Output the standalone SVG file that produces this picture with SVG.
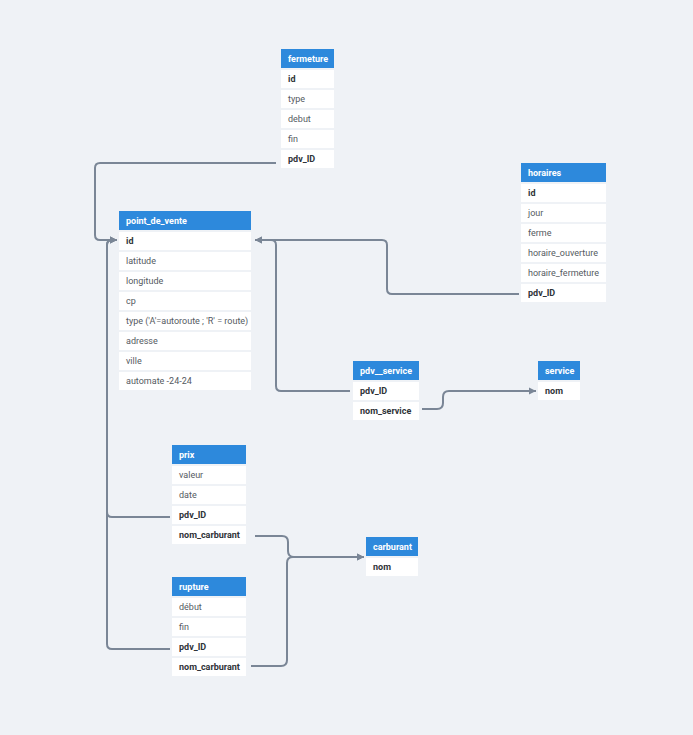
<svg xmlns="http://www.w3.org/2000/svg" width="693" height="735" viewBox="0 0 693 735">
<style>
.bg{fill:#eff2f6}
.hd{fill:#2d89dc}
.rw{fill:#ffffff}
text{font-family:Roboto,"Noto Sans",sans-serif;font-size:9px}
.ht{fill:#ffffff;font-weight:bold}
.k{fill:#2f3338;font-weight:bold}
.f{fill:#555a61}
.c{fill:none;stroke:#7a8696;stroke-width:2}
</style>
<defs>
<marker id="ar" viewBox="0 0 8 8" refX="7" refY="4" markerWidth="8" markerHeight="8" markerUnits="userSpaceOnUse" orient="auto">
<path d="M0,0.5 L7,4 L0,7.5 Z" fill="#7a8696"/>
</marker>
</defs>
<rect class="bg" x="0" y="0" width="693" height="735"/>
<g id="connectors">
<path class="c" d="M276 163 L100 163 Q95 163 95 168 L95 235 Q95 240 100 240 L117 240" marker-end="url(#ar)"/>
<path class="c" d="M170 517 L112 517 Q107 517 107 512 L107 245 Q107 240 112 240 L117 240" marker-end="url(#ar)"/>
<path class="c" d="M170 649 L112 649 Q107 649 107 644 L107 245 Q107 240 112 240 L117 240" marker-end="url(#ar)"/>
<path class="c" d="M519 294 L392 294 Q387 294 387 289 L387 245 Q387 240 382 240 L255 240" marker-end="url(#ar)"/>
<path class="c" d="M350 391 L281 391 Q276 391 276 386 L276 245 Q276 240 271 240 L255 240" marker-end="url(#ar)"/>
<path class="c" d="M422 409 L437 409 Q443 409 443 403 L443 397 Q443 391 449 391 L536 391" marker-end="url(#ar)"/>
<path class="c" d="M255 536 L282 536 Q288 536 288 542 L288 551 Q288 557 294 557 L364 557" marker-end="url(#ar)"/>
<path class="c" d="M251 666 L281 666 Q287 666 287 660 L287 563 Q287 557 293 557 L364 557" marker-end="url(#ar)"/>
</g>
<g id="fermeture">
<rect class="hd" x="281" y="49" width="53" height="19"/>
<text class="ht" x="288" y="61.5">fermeture</text>
<rect class="rw" x="281" y="70" width="53" height="18"/><text class="k" x="288" y="81.5">id</text>
<rect class="rw" x="281" y="90" width="53" height="18"/><text class="f" x="288" y="101.5">type</text>
<rect class="rw" x="281" y="110" width="53" height="18"/><text class="f" x="288" y="121.5">debut</text>
<rect class="rw" x="281" y="130" width="53" height="18"/><text class="f" x="288" y="141.5">fin</text>
<rect class="rw" x="281" y="150" width="53" height="18"/><text class="k" x="288" y="161.5">pdv_ID</text>
</g>
<g id="horaires">
<rect class="hd" x="521" y="163" width="85" height="19"/>
<text class="ht" x="528" y="175.5">horaires</text>
<rect class="rw" x="521" y="184" width="85" height="18"/><text class="k" x="528" y="195.5">id</text>
<rect class="rw" x="521" y="204" width="85" height="18"/><text class="f" x="528" y="215.5">jour</text>
<rect class="rw" x="521" y="224" width="85" height="18"/><text class="f" x="528" y="235.5">ferme</text>
<rect class="rw" x="521" y="244" width="85" height="18"/><text class="f" x="528" y="255.5">horaire_ouverture</text>
<rect class="rw" x="521" y="264" width="85" height="18"/><text class="f" x="528" y="275.5">horaire_fermeture</text>
<rect class="rw" x="521" y="284" width="85" height="18"/><text class="k" x="528" y="295.5">pdv_ID</text>
</g>
<g id="point_de_vente">
<rect class="hd" x="119" y="211" width="132" height="19"/>
<text class="ht" x="126" y="223.5">point_de_vente</text>
<rect class="rw" x="119" y="232" width="132" height="18"/><text class="k" x="126" y="243.5">id</text>
<rect class="rw" x="119" y="252" width="132" height="18"/><text class="f" x="126" y="263.5">latitude</text>
<rect class="rw" x="119" y="272" width="132" height="18"/><text class="f" x="126" y="283.5">longitude</text>
<rect class="rw" x="119" y="292" width="132" height="18"/><text class="f" x="126" y="303.5">cp</text>
<rect class="rw" x="119" y="312" width="132" height="18"/><text class="f" x="126" y="323.5">type ('A'=autoroute ; 'R' = route)</text>
<rect class="rw" x="119" y="332" width="132" height="18"/><text class="f" x="126" y="343.5">adresse</text>
<rect class="rw" x="119" y="352" width="132" height="18"/><text class="f" x="126" y="363.5">ville</text>
<rect class="rw" x="119" y="372" width="132" height="18"/><text class="f" x="126" y="383.5">automate -24-24</text>
</g>
<g id="pdv__service">
<rect class="hd" x="353" y="361" width="66" height="19"/>
<text class="ht" x="360" y="373.5">pdv__service</text>
<rect class="rw" x="353" y="382" width="66" height="18"/><text class="k" x="360" y="393.5">pdv_ID</text>
<rect class="rw" x="353" y="402" width="66" height="18"/><text class="k" x="360" y="413.5">nom_service</text>
</g>
<g id="service">
<rect class="hd" x="538" y="361" width="42" height="19"/>
<text class="ht" x="545" y="373.5">service</text>
<rect class="rw" x="538" y="382" width="42" height="18"/><text class="k" x="545" y="393.5">nom</text>
</g>
<g id="prix">
<rect class="hd" x="172" y="445" width="74" height="19"/>
<text class="ht" x="179" y="457.5">prix</text>
<rect class="rw" x="172" y="466" width="74" height="18"/><text class="f" x="179" y="477.5">valeur</text>
<rect class="rw" x="172" y="486" width="74" height="18"/><text class="f" x="179" y="497.5">date</text>
<rect class="rw" x="172" y="506" width="74" height="18"/><text class="k" x="179" y="517.5">pdv_ID</text>
<rect class="rw" x="172" y="526" width="74" height="18"/><text class="k" x="179" y="537.5">nom_carburant</text>
</g>
<g id="carburant">
<rect class="hd" x="366" y="537" width="52" height="19"/>
<text class="ht" x="373" y="549.5">carburant</text>
<rect class="rw" x="366" y="558" width="52" height="18"/><text class="k" x="373" y="569.5">nom</text>
</g>
<g id="rupture">
<rect class="hd" x="172" y="577" width="74" height="19"/>
<text class="ht" x="179" y="589.5">rupture</text>
<rect class="rw" x="172" y="598" width="74" height="18"/><text class="f" x="179" y="609.5">début</text>
<rect class="rw" x="172" y="618" width="74" height="18"/><text class="f" x="179" y="629.5">fin</text>
<rect class="rw" x="172" y="638" width="74" height="18"/><text class="k" x="179" y="649.5">pdv_ID</text>
<rect class="rw" x="172" y="658" width="74" height="18"/><text class="k" x="179" y="669.5">nom_carburant</text>
</g>
</svg>
